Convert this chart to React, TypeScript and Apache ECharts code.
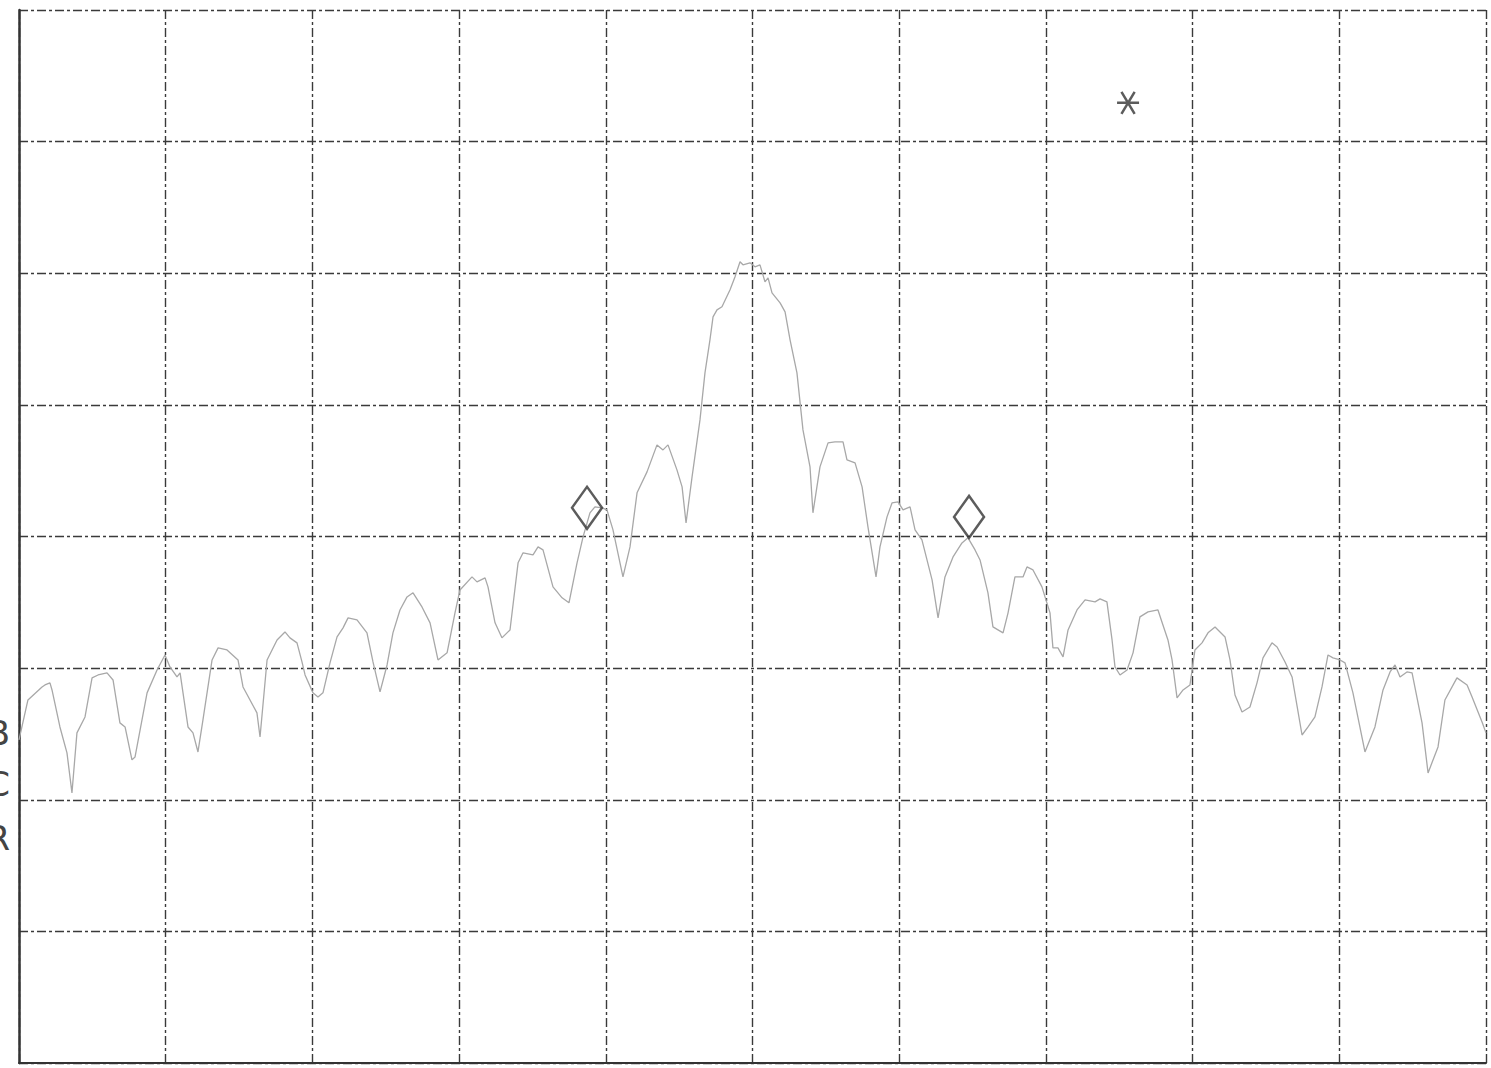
import React, { useEffect, useRef } from "react";
import * as echarts from "echarts";

// Trace: horizontal position in divisions (0..10), level in divisions (0..8, bottom = 0)
const traceX = [
  0, 0.061, 0.157, 0.177, 0.211, 0.225, 0.279, 0.327, 0.361, 0.395, 0.45, 0.498, 0.539, 0.6, 0.641, 0.688, 0.723, 0.77, 0.791, 0.873,
  0.941, 0.995, 1.029, 1.077, 1.098, 1.152, 1.186, 1.22, 1.254, 1.316, 1.357, 1.418, 1.493, 1.527, 1.622, 1.643, 1.691, 1.759, 1.813, 1.847,
  1.895, 1.929, 1.95, 2.004, 2.038, 2.072, 2.12, 2.168, 2.209, 2.243, 2.304, 2.372, 2.413, 2.461, 2.509, 2.549, 2.597, 2.645, 2.686, 2.747,
  2.802, 2.856, 2.918, 2.972, 3.006, 3.088, 3.122, 3.177, 3.197, 3.245, 3.292, 3.347, 3.402, 3.436, 3.504, 3.538, 3.572, 3.64, 3.702, 3.749,
  3.804, 3.845, 3.892, 3.926, 3.974, 4.008, 4.049, 4.117, 4.165, 4.213, 4.281, 4.349, 4.39, 4.424, 4.485, 4.52, 4.547, 4.588, 4.642, 4.676,
  4.71, 4.731, 4.758, 4.792, 4.847, 4.881, 4.915, 4.935, 4.983, 5.017, 5.051, 5.085, 5.106, 5.133, 5.188, 5.222, 5.256, 5.303, 5.344, 5.392,
  5.412, 5.46, 5.515, 5.562, 5.617, 5.644, 5.699, 5.747, 5.787, 5.842, 5.869, 5.917, 5.951, 5.992, 6.026, 6.074, 6.108, 6.155, 6.224, 6.265,
  6.312, 6.367, 6.428, 6.469, 6.517, 6.551, 6.605, 6.639, 6.708, 6.742, 6.789, 6.844, 6.871, 6.912, 6.973, 6.994, 7.028, 7.048, 7.082, 7.117,
  7.151, 7.212, 7.267, 7.335, 7.369, 7.416, 7.451, 7.471, 7.505, 7.553, 7.594, 7.641, 7.696, 7.764, 7.791, 7.832, 7.86, 7.894, 7.935, 7.982,
  8.016, 8.064, 8.105, 8.153, 8.187, 8.221, 8.255, 8.289, 8.337, 8.391, 8.439, 8.48, 8.541, 8.576, 8.63, 8.678, 8.746, 8.787, 8.834, 8.882,
  8.923, 8.957, 9.005, 9.039, 9.093, 9.175, 9.243, 9.298, 9.346, 9.38, 9.414, 9.461, 9.496, 9.564, 9.605, 9.673, 9.72, 9.802, 9.871, 9.905,
  9.973, 10.0,
];
const traceY = [
  2.455, 2.758, 2.857, 2.872, 2.888, 2.834, 2.553, 2.356, 2.052, 2.508, 2.629, 2.926, 2.948, 2.964, 2.91, 2.584, 2.553, 2.303, 2.325, 2.812,
  2.986, 3.1, 3.009, 2.933, 2.964, 2.553, 2.508, 2.363, 2.607, 3.062, 3.154, 3.138, 3.062, 2.857, 2.66, 2.477, 3.062, 3.214, 3.275, 3.23,
  3.192, 3.047, 2.948, 2.812, 2.781, 2.812, 3.04, 3.237, 3.306, 3.382, 3.366, 3.268, 3.047, 2.819, 3.024, 3.268, 3.442, 3.541, 3.572, 3.465,
  3.344, 3.062, 3.116, 3.42, 3.594, 3.693, 3.655, 3.686, 3.617, 3.344, 3.23, 3.29, 3.8, 3.876, 3.86, 3.921, 3.898, 3.617, 3.534, 3.496,
  3.8, 3.997, 4.18, 4.225, 4.218, 4.202, 4.05, 3.693, 3.921, 4.332, 4.491, 4.696, 4.658, 4.696, 4.506, 4.377, 4.103, 4.453, 4.886, 5.243,
  5.494, 5.669, 5.722, 5.745, 5.874, 5.973, 6.087, 6.064, 6.079, 6.049, 6.064, 5.935, 5.965, 5.851, 5.775, 5.707, 5.494, 5.243, 4.81, 4.529,
  4.18, 4.529, 4.711, 4.719, 4.719, 4.582, 4.559, 4.377, 4.073, 3.693, 3.921, 4.149, 4.255, 4.263, 4.202, 4.225, 4.05, 3.974, 3.67, 3.382,
  3.693, 3.845, 3.951, 3.99, 3.898, 3.822, 3.572, 3.313, 3.268, 3.42, 3.693, 3.693, 3.769, 3.746, 3.617, 3.541, 3.42, 3.154, 3.154, 3.085,
  3.29, 3.442, 3.518, 3.503, 3.526, 3.503, 3.214, 3.009, 2.948, 2.986, 3.116, 3.389, 3.427, 3.442, 3.351, 3.214, 3.062, 2.774, 2.834, 2.872,
  3.138, 3.192, 3.268, 3.313, 3.275, 3.237, 3.062, 2.796, 2.667, 2.705, 2.888, 3.078, 3.192, 3.161, 3.047, 2.933, 2.492, 2.553, 2.629, 2.857,
  3.1, 3.078, 3.062, 3.04, 2.812, 2.363, 2.553, 2.834, 2.971, 3.024, 2.933, 2.971, 2.964, 2.584, 2.204, 2.401, 2.758, 2.926, 2.872, 2.781,
  2.591, 2.508,
];

// Markers (diamonds) and the reference asterisk
const markerX = [3.872, 6.476];
const markerY = [4.218, 4.149];
const refX = [7.56];
const refY = [7.295];

// Side labels
const sideLabels = ["B", "C", "R"];

const ASTERISK = "path://M-10,0L10,0M-6,-10L6,10M6,-10L-6,10";

export default function App() {
  const ref = useRef<HTMLDivElement>(null);
  useEffect(() => {
    document.body.style.margin = "0";
    const chart = echarts.init(ref.current!, undefined, { renderer: "svg" });
    const gridColor = "#3a3a3a";
    const dash = [9, 3, 3, 3];
    const labelYs = [733, 784, 838];
    chart.setOption({
      animation: false,
      backgroundColor: "#ffffff",
      grid: { left: 19, right: 5, top: 10, bottom: 5, containLabel: false },
      xAxis: {
        type: "value",
        min: 0,
        max: 10,
        interval: 1,
        axisLabel: { show: false },
        axisTick: { show: false },
        axisLine: { show: true, lineStyle: { color: "#333", width: 2 } },
        splitLine: { show: true, lineStyle: { color: gridColor, width: 1.4, type: dash } },
      },
      yAxis: {
        type: "value",
        min: 0,
        max: 8,
        interval: 1,
        axisLabel: { show: false },
        axisTick: { show: false },
        axisLine: { show: true, onZero: false, lineStyle: { color: "#333", width: 2.5 } },
        splitLine: { show: true, lineStyle: { color: gridColor, width: 1.4, type: dash } },
      },
      series: [
        {
          type: "line",
          data: traceX.map((x, i) => [x, traceY[i]]),
          showSymbol: false,
          symbol: "none",
          lineStyle: { color: "#a8a8a8", width: 1.3 },
          z: 3,
        },
        {
          type: "scatter",
          data: markerX.map((x, i) => [x, markerY[i]]),
          symbol: "diamond",
          symbolSize: [30, 42],
          itemStyle: { color: "rgba(255,255,255,0)", borderColor: "#333", borderWidth: 2.5 },
          z: 5,
        },
        {
          type: "scatter",
          data: refX.map((x, i) => [x, refY[i]]),
          symbol: ASTERISK,
          symbolSize: [22, 22],
          itemStyle: { color: "none", borderColor: "#333", borderWidth: 2.5 },
          z: 5,
        },
      ],
      graphic: sideLabels.map((t, i) => ({
        type: "text",
        x: 10,
        y: labelYs[i],
        style: {
          text: t,
          fill: "#444",
          font: "normal 34px 'DejaVu Sans'",
          align: "right",
          verticalAlign: "middle",
        },
        z: 10,
      })),
    });
    return () => chart.dispose();
  }, []);
  return (
    <div
      ref={ref}
      style={{ position: "absolute", left: 0, top: 0, width: 1491, height: 1068 }}
    />
  );
}
